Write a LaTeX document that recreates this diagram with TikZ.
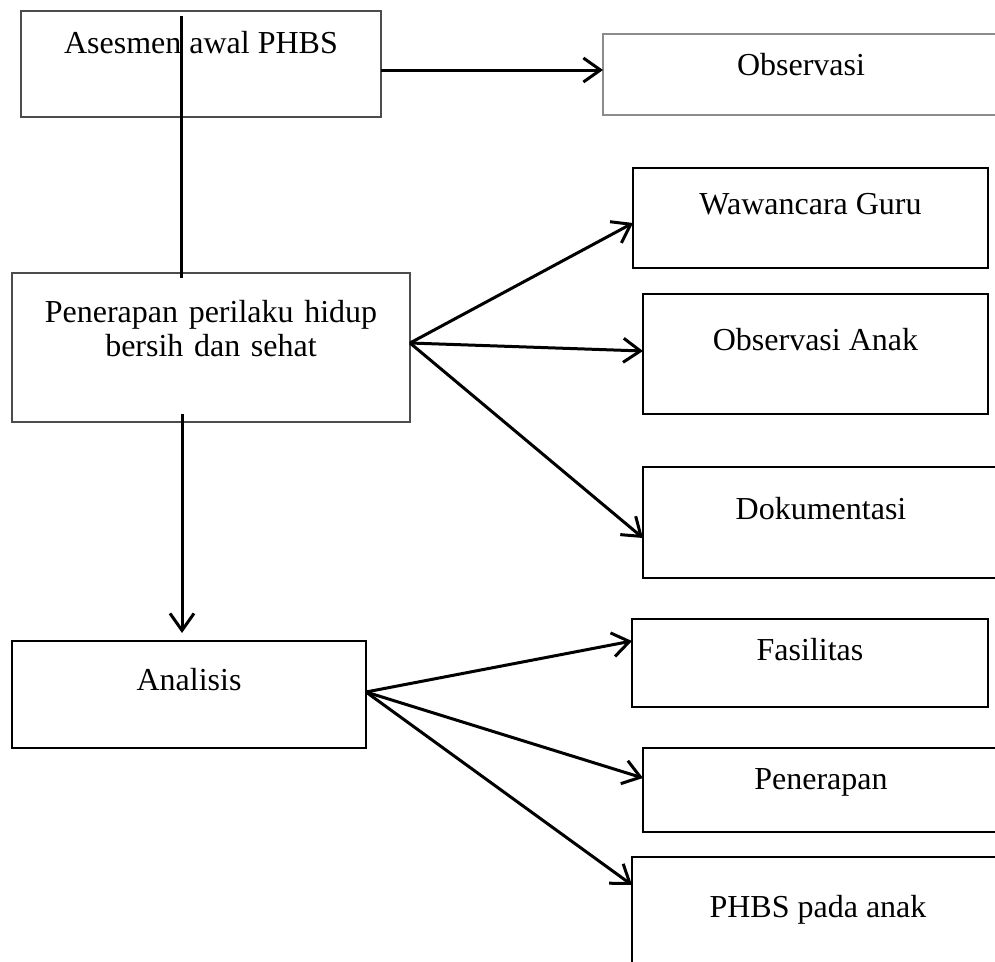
\documentclass[tikz,border=0pt]{standalone}
\usepackage{fontspec}
\setmainfont{Liberation Serif}
\usetikzlibrary{arrows.meta}
\definecolor{abu}{gray}{0.55}
\definecolor{abutua}{gray}{0.3}
\tikzset{kotak/.style={draw, line width=2pt, anchor=north west, inner sep=0pt,
    outer sep=0pt, align=center, font=\fontsize{32}{34}\selectfont}}

\begin{document}
\begin{tikzpicture}[x=1pt, y=-1pt, >={Straight Barb[length=17pt,width=24pt]},
    every edge/.style={draw, line width=3pt}]
\useasboundingbox (0,0) rectangle (995,961);
\clip (0,0) rectangle (995,961);
\node[kotak, draw=abutua, line width=1.6pt, minimum width=360pt, text height=42pt, text depth=64pt] (Asesmen) at (21,11)
     {Asesmen awal PHBS};
\node[kotak, draw=abu, line width=1.6pt, minimum width=396pt, text height=41pt, text depth=40pt] (Observasi) at (603,34)
     {Observasi};
\node[kotak, draw=abutua, line width=1.3pt, text width=398pt, text height=49pt, text depth=100pt] (Penerapan-phbs) at (12,273)
     {Penerapan perilaku hidup\\ bersih dan sehat};
\node[kotak, minimum width=355pt, text height=46pt, text depth=54pt] (Wawancara) at (633,168)
     {Wawancara Guru};
\node[kotak, minimum width=345pt, text height=56pt, text depth=64pt] (Obs-anak) at (643,294)
     {Observasi Anak};
\node[kotak, minimum width=356pt, text height=52pt, text depth=59pt] (Dokumentasi) at (643,467)
     {Dokumentasi};
\node[kotak, minimum width=354pt, text height=49pt, text depth=58pt] (Analisis) at (12,641)
     {Analisis};
\node[kotak, minimum width=356pt, text height=41pt, text depth=47pt] (Fasilitas) at (632,619)
     {Fasilitas};
\node[kotak, minimum width=356pt, text height=41pt, text depth=43pt] (Penerapan) at (643,748)
     {Penerapan};
\node[kotak, minimum width=372pt, text height=60pt, text depth=120pt] (Phbs-anak) at (632,857)
     {PHBS pada anak};

\path[->] ([yshift=-6pt]Asesmen.east) edge ([yshift=-6pt]Asesmen.east -| Observasi.west);
\path ([shift={(160,5)}]Asesmen.north west) edge ([shift={(160,5)}]Asesmen.north west |- Penerapan-phbs.north);
\path[->] ([shift={(170,-8)}]Penerapan-phbs.south west) edge ([shift={(170,-8)}]Penerapan-phbs.south west |- Analisis.north);

\path[->] ([yshift=4.5pt]Penerapan-phbs.east) edge ([yshift=-5pt]Wawancara.west);
\path[->] ([yshift=4.5pt]Penerapan-phbs.east) edge ([yshift=3pt]Obs-anak.west);
\path[->] ([yshift=4.5pt]Penerapan-phbs.east) edge ([yshift=-15.5pt]Dokumentasi.west);

\path[->] ([yshift=2.5pt]Analisis.east) edge ([yshift=-22pt]Fasilitas.north west);
\path[->] ([yshift=2.5pt]Analisis.east) edge ([yshift=12pt]Penerapan.west);
\path[->] ([yshift=2.5pt]Analisis.east) edge ([yshift=-28pt]Phbs-anak.north west);
\end{tikzpicture}
\end{document}
